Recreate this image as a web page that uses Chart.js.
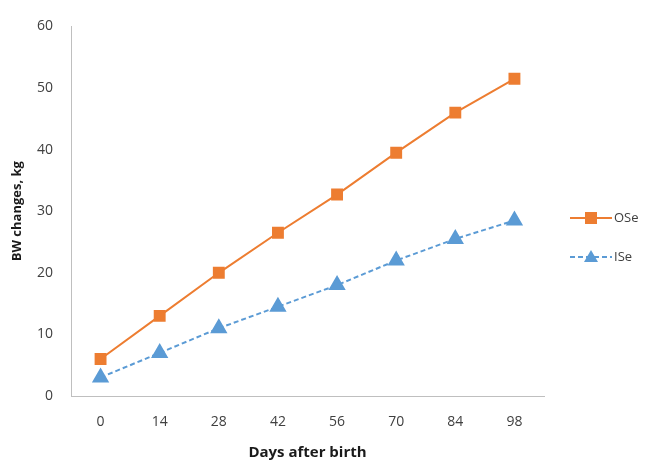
<!DOCTYPE html>
<html><head><meta charset="utf-8">
<script src="https://cdn.jsdelivr.net/npm/chart.js@4"></script>
<style>html,body{margin:0;padding:0;background:#fff}#wrap{width:653px;height:466px}</style>
</head><body><div id="wrap"><canvas id="c"></canvas></div>
<script>
const categories = ["0","14","28","42","56","70","84","98"];
const oseValues = [6, 13, 20, 26.5, 32.7, 39.5, 46, 51.5];
const iseValues = [3, 7, 11, 14.5, 18, 22, 25.5, 28.5];
const seriesNames = ["OSe", "ISe"];
const xTitle = "Days after birth";
const yTitle = "BW changes, kg";

const ORANGE = "#ED7D31", BLUE = "#5B9BD5";
const FONT = "'Open Sans', 'Liberation Sans', sans-serif";

const legendPlugin = {
  id: "sideLegend",
  afterDraw(chart) {
    const ctx = chart.ctx;
    const items = chart.data.datasets;
    const x0 = 570, x1 = 612;
    const ys = [218, 257];
    items.forEach((ds, i) => {
      const y = ys[i];
      ctx.save();
      ctx.strokeStyle = ds.borderColor;
      ctx.lineWidth = 2;
      ctx.setLineDash(ds.borderDash || []);
      ctx.beginPath(); ctx.moveTo(x0, y); ctx.lineTo(x1, y); ctx.stroke();
      ctx.setLineDash([]);
      ctx.fillStyle = ds.pointBackgroundColor;
      const cx = (x0 + x1) / 2;
      if (ds.pointStyle === "rect") {
        ctx.fillRect(cx - 6, y - 6, 12, 12);
      } else {
        ctx.beginPath();
        ctx.moveTo(cx, y - 7); ctx.lineTo(cx + 7, y + 5); ctx.lineTo(cx - 7, y + 5);
        ctx.closePath(); ctx.fill();
      }
      ctx.fillStyle = "#404040";
      ctx.font = "13px " + FONT;
      ctx.textBaseline = "middle";
      ctx.fillText(ds.label, x1 + 2, y);
      ctx.restore();
    });
  }
};

new Chart(document.getElementById("c"), {
  type: "line",
  data: {
    labels: categories,
    datasets: [
      { label: seriesNames[0], data: oseValues, borderColor: ORANGE, backgroundColor: ORANGE,
        pointBackgroundColor: ORANGE, pointBorderColor: ORANGE, pointStyle: "rect",
        pointRadius: 7, borderWidth: 2, tension: 0 },
      { label: seriesNames[1], data: iseValues, borderColor: BLUE, backgroundColor: BLUE,
        pointBackgroundColor: BLUE, pointBorderColor: BLUE, pointStyle: "triangle",
        pointRadius: 8, borderWidth: 2, borderDash: [5, 3], tension: 0 }
    ]
  },
  options: {
    responsive: true, maintainAspectRatio: false, animation: false,
    layout: { padding: { top: 24, right: 109, left: 0, bottom: 0 } },
    plugins: { legend: { display: false }, tooltip: { enabled: false } },
    scales: {
      x: {
        offset: true,
        grid: { display: false, drawTicks: false },
        border: { display: true, color: "#BFBFBF", width: 1 },
        ticks: { color: "#404040", font: { family: FONT, size: 14 }, padding: 18, maxRotation: 0 },
        title: { display: true, text: xTitle, color: "#1a1a1a", font: { family: FONT, size: 15, weight: "bold" }, padding: { top: 12 } },
        afterFit(s) { s.height = 70; }
      },
      y: {
        min: 0, max: 60,
        grid: { display: false, drawTicks: false },
        border: { display: true, color: "#BFBFBF", width: 1 },
        ticks: { stepSize: 10, color: "#404040", font: { family: FONT, size: 14 }, padding: 18 },
        title: { display: true, text: yTitle, color: "#1a1a1a", font: { family: FONT, size: 13, weight: "bold" }, padding: { top: 9, bottom: 0 } },
        afterFit(s) { s.width = 71; }
      }
    }
  },
  plugins: [legendPlugin]
});
</script></body></html>
